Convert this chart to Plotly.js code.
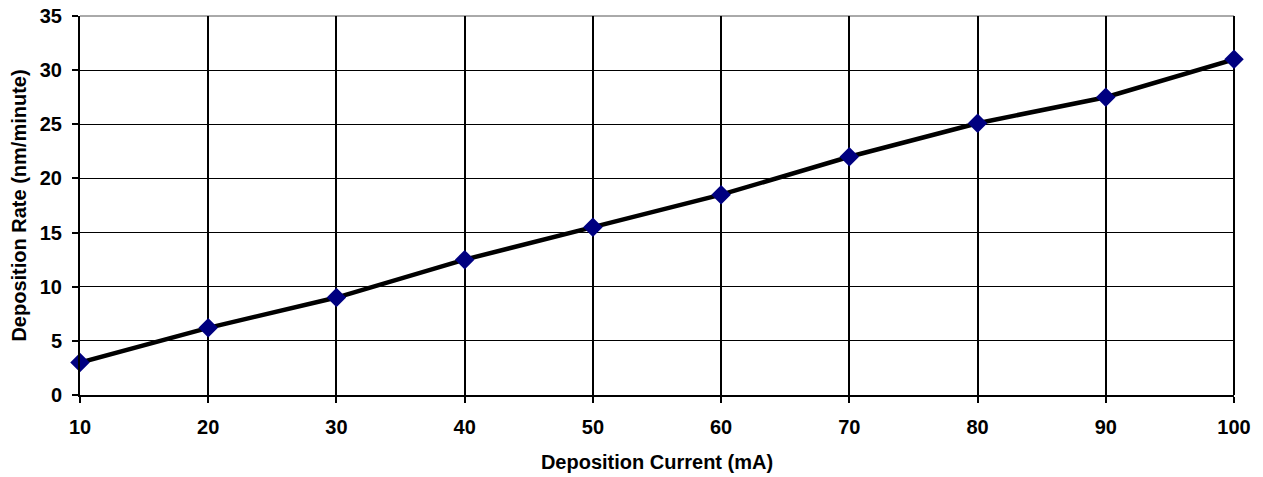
<!DOCTYPE html>
<html>
<head>
<meta charset="utf-8">
<script src="https://cdn.plot.ly/plotly-3.0.1.min.js"></script>
<style>html,body{margin:0;padding:0;background:#fff;}#chart{width:1263px;height:477px;}</style>
</head>
<body>
<div id="chart"></div>
<script>
const current = [10, 20, 30, 40, 50, 60, 70, 80, 90, 100];
const rate = [3, 6.2, 9, 12.5, 15.5, 18.5, 22, 25.1, 27.5, 31];
const xTicks = [10, 20, 30, 40, 50, 60, 70, 80, 90, 100];
const yTicks = [0, 5, 10, 15, 20, 25, 30, 35];

const font = {family: 'Liberation Sans, Arial, sans-serif', color: '#000'};

Plotly.newPlot('chart', [{
  x: current, y: rate, type: 'scatter', mode: 'lines+markers',
  line: {color: '#000', width: 4.5},
  marker: {symbol: 'diamond', size: 15, color: '#000080', line: {width: 0}},
  cliponaxis: false,
  hoverinfo: 'skip'
}], {
  width: 1263, height: 477,
  margin: {l: 80, r: 29, t: 16, b: 82},
  paper_bgcolor: '#fff', plot_bgcolor: '#fff',
  showlegend: false,
  font: font,
  xaxis: {
    range: [10, 100], tickvals: xTicks, ticktext: xTicks.map(String),
    showgrid: true, gridcolor: '#000', gridwidth: 2,
    showline: true, linecolor: '#000', linewidth: 2,
    ticks: 'outside', ticklen: 6, tickwidth: 2, tickcolor: '#000',
    ticklabelstandoff: 7,
    tickfont: {family: font.family, size: 20, color: '#000', weight: 'bold'},
    zeroline: false, fixedrange: true,
    title: {text: '<b>Deposition Current (mA)</b>', font: {family: font.family, size: 20, color: '#000'}, standoff: 18}
  },
  yaxis: {
    range: [0, 35], tickvals: yTicks, ticktext: yTicks.map(String),
    showgrid: true, gridcolor: '#000', gridwidth: 1,
    showline: true, linecolor: '#000', linewidth: 2,
    ticks: 'outside', ticklen: 6, tickwidth: 2, tickcolor: '#000',
    ticklabelstandoff: 6,
    tickfont: {family: font.family, size: 20, color: '#000', weight: 'bold'},
    zeroline: false, fixedrange: true,
    title: {text: '<b>Deposition Rate (nm/minute)</b>', font: {family: font.family, size: 20, color: '#000'}, standoff: 8}
  },
  shapes: [
    {type: 'line', xref: 'paper', yref: 'paper', x0: 0, x1: 1, y0: 1, y1: 1, line: {color: '#555', width: 1}, layer: 'below'},
    {type: 'line', xref: 'paper', yref: 'paper', x0: 1, x1: 1, y0: 0, y1: 1, line: {color: '#000', width: 2}, layer: 'below'}
  ]
}, {staticPlot: true});
</script>
</body>
</html>
